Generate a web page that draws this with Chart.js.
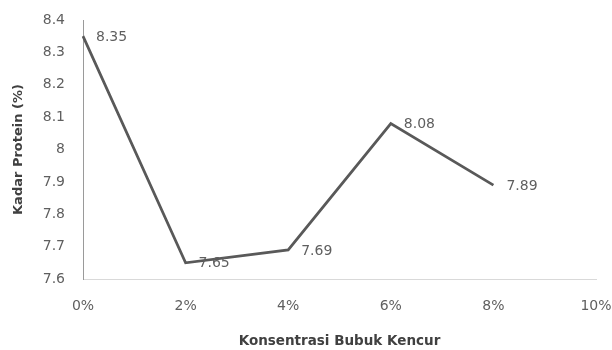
<!DOCTYPE html>
<html>
<head>
<meta charset="utf-8">
<script src="https://cdn.jsdelivr.net/npm/chart.js@4/dist/chart.umd.min.js"></script>
<style>
  html, body { margin: 0; padding: 0; background: #fff; }
  #wrap { width: 612px; height: 350px; }
</style>
</head>
<body>
<div id="wrap"><canvas id="chart" width="612" height="350"></canvas></div>
<script>
// Kadar protein per konsentrasi bubuk kencur
const konsentrasi = ['0%', '2%', '4%', '6%', '8%', '10%'];
const kadarProtein = [8.35, 7.65, 7.69, 8.08, 7.89, null];
const yMin = 7.6;
const yMax = 8.4;
const yStep = 0.1;

const textColor = '#5f5f5f';
const titleColor = '#404040';
const fontFamily = '"DejaVu Sans", Verdana, sans-serif';

// Label nilai di sebelah kanan tiap titik
const valueLabels = {
  id: 'valueLabels',
  afterDatasetsDraw(chart) {
    const ctx = chart.ctx;
    const meta = chart.getDatasetMeta(0);
    ctx.save();
    ctx.font = '14px ' + fontFamily;
    ctx.fillStyle = textColor;
    ctx.textAlign = 'left';
    ctx.textBaseline = 'middle';
    meta.data.forEach((pt, i) => {
      const v = kadarProtein[i];
      if (v == null) return;
      ctx.fillText(v.toFixed(2), pt.x + 13, pt.y + 1);
    });
    ctx.restore();
  }
};

new Chart(document.getElementById('chart'), {
  type: 'line',
  data: {
    labels: konsentrasi,
    datasets: [{
      data: kadarProtein,
      borderColor: '#595959',
      borderWidth: 2.75,
      pointRadius: 0,
      tension: 0,
      fill: false
    }]
  },
  options: {
    responsive: false,
    animation: false,
    layout: { padding: { top: 20, right: 16, bottom: 0, left: 0 } },
    plugins: {
      legend: { display: false },
      tooltip: { enabled: false }
    },
    scales: {
      x: {
        offset: false,
        grid: { display: false, drawTicks: false },
        border: { display: true, color: '#d9d9d9', width: 1 },
        ticks: {
          color: textColor,
          font: { family: fontFamily, size: 14 },
          padding: 19,
          maxRotation: 0
        },
        title: {
          display: true,
          text: 'Konsentrasi Bubuk Kencur',
          color: titleColor,
          font: { family: fontFamily, size: 13.5, weight: 'bold' },
          padding: { top: 0, bottom: 0 }
        },
        afterFit(scale) {
          scale.height = 71;
          scale.paddingLeft = 0;
          scale.paddingRight = 0;
        }
      },
      y: {
        min: yMin,
        max: yMax,
        grid: { display: false, drawTicks: false },
        border: { display: true, color: '#9a9a9a', width: 1 },
        ticks: {
          stepSize: yStep,
          color: textColor,
          font: { family: fontFamily, size: 14 },
          padding: 18,
          callback: v => String(Math.round(v * 10) / 10)
        },
        title: {
          display: true,
          text: 'Kadar Protein (%)',
          color: titleColor,
          font: { family: fontFamily, size: 13, weight: 'bold' },
          padding: { top: 11, bottom: 0 }
        },
        afterFit(scale) {
          scale.width = 83;
          scale.paddingTop = 0;
          scale.paddingBottom = 0;
        }
      }
    }
  },
  plugins: [valueLabels]
});
</script>
</body>
</html>
